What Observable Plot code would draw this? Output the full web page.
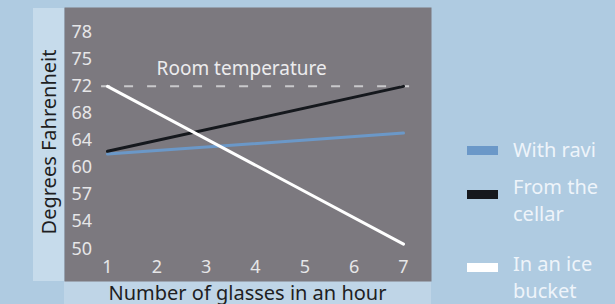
<!DOCTYPE html>
<html>
<head>
<meta charset="utf-8">
<script src="https://cdn.jsdelivr.net/npm/d3@7"></script>
<script src="https://cdn.jsdelivr.net/npm/@observablehq/plot@0.6"></script>
<style>
  html, body { margin: 0; padding: 0; overflow: hidden; }
  #wrap { position: relative; width: 615px; height: 304px; background: #afcbe1; overflow: hidden; font-family: "Noto Sans", sans-serif; }
  .panel { position: absolute; }
  #chart { position: absolute; left: 0; top: 0; }
  .title { position: absolute; color: #1e1e22; font-size: 20px; white-space: nowrap; }
  .leg { position: absolute; color: #eef4fa; font-size: 20px; line-height: 27px; white-space: nowrap; }
  .sw { position: absolute; width: 31px; height: 9px; }
</style>
</head>
<body>
<div id="wrap">
  <div class="panel" style="left:33px;top:8px;width:31px;height:273px;background:#c6dbeb"></div>
  <div class="panel" style="left:64px;top:281px;width:367px;height:23px;background:#bfd5e7"></div>
  <div id="chart"></div>
  <div class="title" id="ytitle"></div>
  <div class="title" id="xtitle"></div>
  <div id="legend"></div>
</div>
<script>
// ---- data ----
const glasses = [1, 2, 3, 4, 5, 6, 7];
const yTicks = [50, 54, 57, 60, 64, 68, 72, 75, 78];
const seriesNames = ["With ravi", "From the cellar", "In an ice bucket"];
const seriesColors = ["#6b98c8", "#15181d", "#ffffff"];
const withRavi = [62.0, 65.1];
const fromCellar = [62.4, 72.0];
const iceBucket = [72.0, 50.7];
const seriesX = [1, 7];
const roomTemp = 72;
const roomTempSpan = [0.88, 7.18];
const roomLabel = "Room temperature";
const roomLabelX = 3.72;
const xTitle = "Number of glasses in an hour";
const yTitle = "Degrees Fahrenheit";

// ---- build ----
const rows = [];
[withRavi, fromCellar, iceBucket].forEach((vals, s) => {
  vals.forEach((v, i) => rows.push({series: seriesNames[s], x: seriesX[i], y: v}));
});

const yTop = 31.7, yBottom = 248.3;
const yRange = yTicks.map((d, i) => yBottom - i * (yBottom - yTop) / (yTicks.length - 1));

const plot = Plot.plot({
  width: 615,
  height: 304,
  marginLeft: 64,
  marginTop: 7,
  marginRight: 184,
  marginBottom: 23,
  style: {background: "transparent", fontFamily: "Noto Sans, sans-serif"},
  x: {domain: [1, 7], range: [107, 403]},
  y: {type: "linear", domain: yTicks, range: yRange},
  color: {domain: seriesNames, range: seriesColors},
  marks: [
    Plot.frame({fill: "#7c797f", stroke: null}),
    Plot.axisY(yTicks, {anchor: "left", tickSize: 0, tickPadding: 0, textAnchor: "start", dx: 7,
      fontSize: 18, fill: "#e6e6e8", label: null, tickFormat: d => d}),
    Plot.axisX(glasses, {anchor: "bottom", tickSize: 0, tickPadding: 0, dy: -21,
      fontSize: 18, fill: "#e6e6e8", label: null, tickFormat: d => d}),
    Plot.ruleY([roomTemp], {x1: roomTempSpan[0], x2: roomTempSpan[1], stroke: "#c9c9cc",
      strokeWidth: 2, strokeDasharray: "9,14"}),
    Plot.text([roomLabel], {x: roomLabelX, y: roomTemp, text: d => d, dy: -17,
      fontSize: 19, fill: "#ececee"}),
    Plot.line(rows, {x: "x", y: "y", z: "series", stroke: "series", strokeWidth: 3})
  ]
});
document.getElementById("chart").appendChild(plot);

// titles
const yt = document.getElementById("ytitle");
yt.textContent = yTitle;
yt.style.left = "47.5px"; yt.style.top = "142px";
yt.style.transform = "translate(-50%,-50%) rotate(-90deg)";
const xt = document.getElementById("xtitle");
xt.textContent = xTitle;
xt.style.left = "247.5px"; xt.style.top = "292px";
xt.style.transform = "translate(-50%,-50%)";

// legend
const legTops = [136, 173, 250];
const legLines = [["With ravi"], ["From the", "cellar"], ["In an ice", "bucket"]];
const swCenters = [150, 194, 267];
const legend = document.getElementById("legend");
seriesNames.forEach((name, i) => {
  const sw = document.createElement("div");
  sw.className = "sw";
  sw.style.left = "467px";
  sw.style.top = (swCenters[i] - 4.5) + "px";
  sw.style.background = seriesColors[i];
  legend.appendChild(sw);
  const t = document.createElement("div");
  t.className = "leg";
  t.style.left = "513px";
  t.style.top = legTops[i] + "px";
  t.innerHTML = legLines[i].join("<br>");
  legend.appendChild(t);
});
</script>
</body>
</html>
